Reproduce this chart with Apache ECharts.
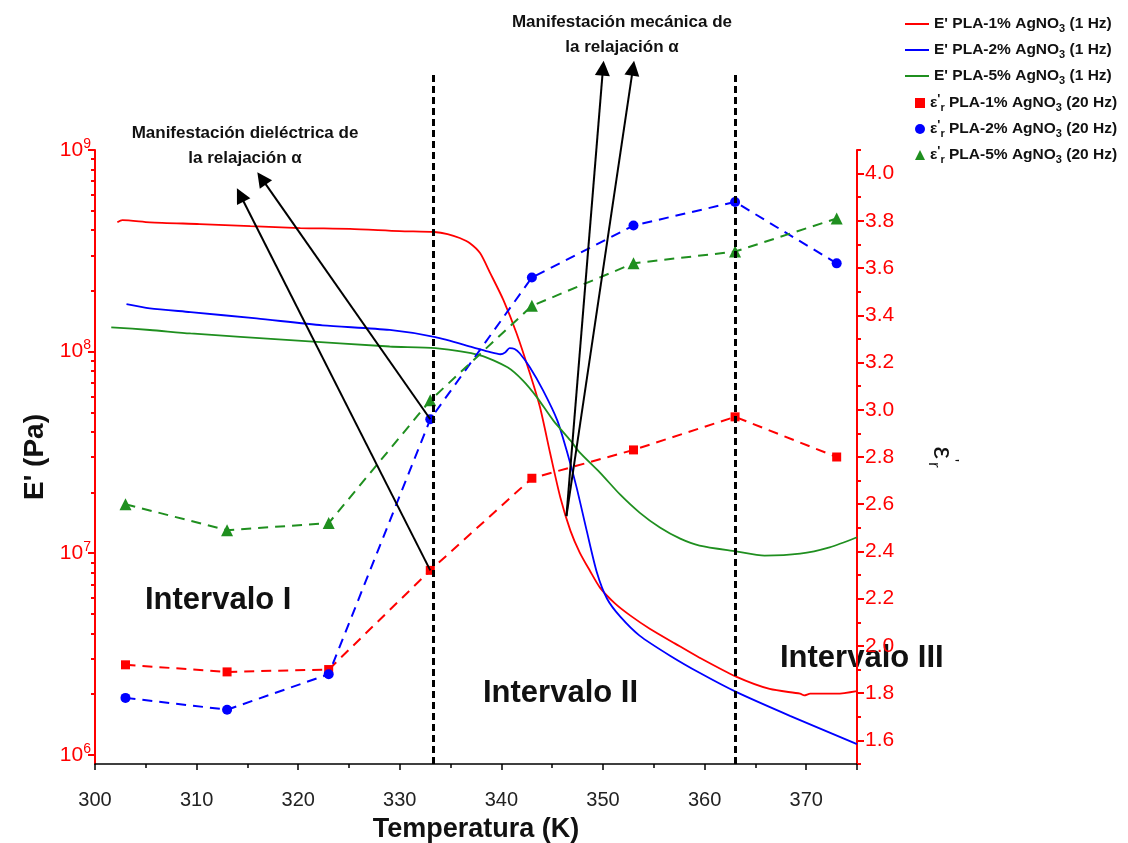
<!DOCTYPE html>
<html>
<head>
<meta charset="utf-8">
<script src="https://cdn.jsdelivr.net/npm/echarts@6/dist/echarts.min.js"></script>
<style>
  html, body { margin: 0; padding: 0; background: #ffffff; }
  #chart { width: 1128px; height: 843px; }
</style>
</head>
<body>
<div id="chart"></div>
<script>
// Storage modulus E' at 1 Hz: temperature (K) and modulus (Pa)
const tempE1 = [302.2, 302.7, 305.4, 310.3, 315.3, 320.2, 325.1, 330.0, 333.4, 334.7, 335.9, 336.9, 337.9, 338.9, 340.2, 341.5, 342.8, 343.8, 344.8, 345.8, 346.8, 347.7, 348.7, 349.7, 351.2, 352.7, 354.6, 357.1, 359.5, 363.1, 366.4, 369.4, 369.8, 370.4, 373.0, 375.0];
const modE1 = [4.38e8, 4.49e8, 4.38e8, 4.29e8, 4.19e8, 4.10e8, 4.06e8, 3.96e8, 3.92e8, 3.83e8, 3.66e8, 3.45e8, 3.08e8, 2.45e8, 1.80e8, 1.23e8, 7.80e7, 5.29e7, 3.13e7, 1.89e7, 1.29e7, 1.01e7, 8.20e6, 6.75e6, 5.62e6, 4.90e6, 4.22e6, 3.56e6, 3.03e6, 2.44e6, 2.12e6, 2.01e6, 1.97e6, 2.01e6, 2.01e6, 2.07e6];

const tempE2 = [303.1, 305.4, 309.4, 315.9, 322.4, 329.0, 333.5, 337.2, 338.9, 339.9, 340.4, 340.8, 341.3, 341.8, 342.8, 344.1, 345.5, 346.5, 347.4, 348.4, 349.4, 350.4, 351.7, 353.6, 356.6, 359.5, 363.1, 368.4, 375.0];
const modE2 = [1.72e8, 1.64e8, 1.57e8, 1.46e8, 1.35e8, 1.28e8, 1.18e8, 1.05e8, 9.93e7, 9.70e7, 9.93e7, 1.04e8, 1.03e8, 9.81e7, 8.36e7, 6.42e7, 4.56e7, 3.13e7, 2.12e7, 1.29e7, 8.02e6, 5.94e6, 4.84e6, 3.90e6, 3.10e6, 2.55e6, 2.05e6, 1.56e6, 1.13e6];

const tempE5 = [301.6, 305.4, 309.4, 319.2, 329.0, 333.5, 337.9, 340.6, 342.1, 343.5, 345.1, 346.8, 347.7, 349.7, 351.7, 353.6, 355.6, 357.6, 359.5, 363.1, 365.9, 369.4, 372.3, 375.0];
const modE5 = [1.32e8, 1.28e8, 1.23e8, 1.14e8, 1.06e8, 1.04e8, 9.59e7, 8.36e7, 7.20e7, 5.93e7, 4.56e7, 3.62e7, 3.16e7, 2.51e7, 1.95e7, 1.59e7, 1.34e7, 1.18e7, 1.09e7, 1.02e7, 9.73e6, 9.95e6, 1.07e7, 1.20e7];

// Real permittivity at 20 Hz
const tempDiel = [303, 313, 323, 333, 343, 353, 363, 373];
const eps1 = [1.92, 1.89, 1.90, 2.32, 2.71, 2.83, 2.97, 2.80];
const eps2 = [1.78, 1.73, 1.88, 2.96, 3.56, 3.78, 3.88, 3.62];
const eps5 = [2.60, 2.49, 2.52, 3.04, 3.44, 3.62, 3.67, 3.81];

// Series names
const namesE = ["E' PLA-1% AgNO3 (1 Hz)", "E' PLA-2% AgNO3 (1 Hz)", "E' PLA-5% AgNO3 (1 Hz)"];
const namesEps = ["ε'r PLA-1% AgNO3 (20 Hz)", "ε'r PLA-2% AgNO3 (20 Hz)", "ε'r PLA-5% AgNO3 (20 Hz)"];

// Axis ticks
const modMajor = [1e6, 1e7, 1e8, 1e9];
const modMinor = [2e6, 3e6, 4e6, 5e6, 6e6, 7e6, 8e6, 9e6, 2e7, 3e7, 4e7, 5e7, 6e7, 7e7, 8e7, 9e7, 2e8, 3e8, 4e8, 5e8, 6e8, 7e8, 8e8, 9e8];
const epsMajor = [1.6, 1.8, 2.0, 2.2, 2.4, 2.6, 2.8, 3.0, 3.2, 3.4, 3.6, 3.8, 4.0];
const epsMinor = [1.5, 1.7, 1.9, 2.1, 2.3, 2.5, 2.7, 2.9, 3.1, 3.3, 3.5, 3.7, 3.9, 4.1];

// Interval boundaries (K) and annotation arrows [from, to] in (T, ε'r) units
const boundaries = [333.3, 363];
const arrowsDiel = [[[333, 2.32], [314.3, 3.91]], [[333, 2.96], [316.4, 3.98]]];
const arrowsMech = [[[346.4, 2.55], [350.0, 4.447]], [[346.4, 2.55], [352.95, 4.447]]];

const RED = '#ff0000', BLUE = '#0000ff', GREEN = '#1f8f1f';
const FONT = 'Liberation Sans, Arial, sans-serif';

const zip = (a, b) => a.map((v, i) => [v, b[i]]);

const chart = echarts.init(document.getElementById('chart'), null, { renderer: 'canvas' });

const legendRich = {
  s: { fontSize: 11, fontWeight: 'bold', fontFamily: FONT, color: '#111', verticalAlign: 'bottom', lineHeight: 11 },
  p: { fontSize: 13, fontWeight: 'bold', fontFamily: FONT, color: '#111', verticalAlign: 'top', lineHeight: 13 }
};
const legendFormat = name => name.replace("ε'r", "ε{p|'}{s|r}").replace('AgNO3', 'AgNO{s|3}');
const legendText = { fontSize: 15.5, fontWeight: 'bold', fontFamily: FONT, color: '#111', lineHeight: 20, rich: legendRich };

function curve(name, t, e, color) {
  return {
    name, type: 'line', xAxisIndex: 0, yAxisIndex: 0,
    data: zip(t, e), symbol: 'none', smooth: 0.25,
    lineStyle: { color, width: 1.8 }, itemStyle: { color }, z: 3
  };
}
function diel(name, v, color, symbol, size) {
  return {
    name, type: 'line', xAxisIndex: 0, yAxisIndex: 2,
    data: zip(tempDiel, v), symbol, symbolSize: size, showSymbol: true,
    lineStyle: { color, width: 2, type: [10, 7] }, itemStyle: { color }, z: 4
  };
}

const vLineTop = 4.418;
const markLines = [];
boundaries.forEach(b => markLines.push([
  { coord: [b, vLineTop], symbol: 'none', lineStyle: { color: '#000', width: 3, type: [7, 4] } },
  { coord: [b, 1.5], symbol: 'none' }
]));
arrowsDiel.concat(arrowsMech).forEach(a => markLines.push([
  { coord: a[0], symbol: 'none', lineStyle: { color: '#000', width: 2, type: 'solid' } },
  { coord: a[1], symbol: 'triangle', symbolSize: 15 }
]));

const option = {
  backgroundColor: '#ffffff',
  animation: false,
  grid: [
    { left: 95, right: 271, top: 150, bottom: 79, containLabel: false, outerBoundsMode: 'none' },
    { left: 95, right: 271, top: 60, bottom: 79, containLabel: false, outerBoundsMode: 'none' }
  ],
  legend: [
    {
      data: namesE.map(n => ({ name: n, icon: 'rect' })),
      orient: 'vertical', left: 900, top: 9,
      itemWidth: 24, itemHeight: 2, itemGap: 6,
      formatter: legendFormat, textStyle: legendText
    },
    {
      data: [{ name: namesEps[0], icon: 'rect' }, { name: namesEps[1], icon: 'circle' }, { name: namesEps[2], icon: 'triangle' }],
      orient: 'vertical', left: 910, top: 88,
      itemWidth: 10, itemHeight: 10, itemGap: 6,
      formatter: legendFormat, textStyle: legendText
    }
  ],
  xAxis: [
    {
      type: 'value', gridIndex: 0, min: 300, max: 375, interval: 10,
      name: 'Temperatura (K)', nameLocation: 'middle', nameGap: 52,
      nameTextStyle: { fontSize: 27, fontWeight: 'bold', fontFamily: FONT, color: '#111' },
      axisLine: { show: true, lineStyle: { color: '#000', width: 1.5 } },
      axisTick: { show: true, length: 6, lineStyle: { color: '#000', width: 1.5 } },
      minorTick: { show: true, splitNumber: 2, length: 4, lineStyle: { color: '#000', width: 1.5 } },
      axisLabel: { fontSize: 20, fontFamily: 'Liberation Sans Narrow, Arial, sans-serif', color: '#222', margin: 26, showMaxLabel: false },
      splitLine: { show: false }
    },
    {
      type: 'value', gridIndex: 1, min: 300, max: 375, show: false
    }
  ],
  yAxis: [
    {
      type: 'log', gridIndex: 0, min: 9e5, max: 1e9, position: 'left',
      name: "E' (Pa)", nameLocation: 'middle', nameGap: 40, nameRotate: 90,
      nameTextStyle: { fontSize: 28, fontWeight: 'bold', fontFamily: FONT, color: '#111' },
      axisLine: { show: true, lineStyle: { color: RED, width: 2 } },
      axisTick: { show: true, length: 7, customValues: modMajor, lineStyle: { color: RED, width: 2 } },
      axisLabel: {
        customValues: modMajor, margin: 4,
        formatter: v => '{b|10}{e|' + Math.round(Math.log10(v)) + '}',
        rich: {
          b: { fontSize: 21, fontFamily: FONT, color: RED, lineHeight: 26, verticalAlign: 'middle' },
          e: { fontSize: 14, fontFamily: FONT, color: RED, lineHeight: 14, verticalAlign: 'top' }
        }
      },
      splitLine: { show: false }
    },
    {
      type: 'log', gridIndex: 0, min: 9e5, max: 1e9, position: 'left',
      axisLine: { show: false },
      axisTick: { show: true, length: 4, customValues: modMinor, lineStyle: { color: RED, width: 2 } },
      axisLabel: { show: false },
      splitLine: { show: false }
    },
    {
      type: 'value', gridIndex: 0, min: 1.5, max: 4.1, position: 'right',
      name: "{e|ε}{p|'}{s|r}", nameLocation: 'middle', nameGap: 68, nameRotate: -90,
      nameTextStyle: {
        fontSize: 28, fontFamily: FONT, color: '#111',
        rich: {
          e: { fontSize: 28, fontFamily: FONT, color: '#111', lineHeight: 34 },
          p: { fontSize: 16, fontFamily: FONT, color: '#111', lineHeight: 16, verticalAlign: 'top' },
          s: { fontSize: 17, fontFamily: FONT, color: '#111', lineHeight: 17, verticalAlign: 'bottom' }
        }
      },
      axisLine: { show: true, lineStyle: { color: RED, width: 2 } },
      axisTick: { show: true, length: 7, customValues: epsMajor, lineStyle: { color: RED, width: 2 } },
      axisLabel: {
        customValues: epsMajor, margin: 8,
        formatter: v => v.toFixed(1),
        fontSize: 21, fontFamily: FONT, color: RED
      },
      splitLine: { show: false }
    },
    {
      type: 'value', gridIndex: 0, min: 1.5, max: 4.1, position: 'right',
      axisLine: { show: false },
      axisTick: { show: true, length: 4, customValues: epsMinor, lineStyle: { color: RED, width: 2 } },
      axisLabel: { show: false },
      splitLine: { show: false }
    },
    {
      type: 'value', gridIndex: 1, min: 1.5, max: 4.4814, show: false
    }
  ],
  series: [
    curve(namesE[0], tempE1, modE1, RED),
    curve(namesE[1], tempE2, modE2, BLUE),
    curve(namesE[2], tempE5, modE5, GREEN),
    diel(namesEps[0], eps1, RED, 'rect', 9),
    diel(namesEps[1], eps2, BLUE, 'circle', 10),
    diel(namesEps[2], eps5, GREEN, 'triangle', 12),
    {
      type: 'line', xAxisIndex: 1, yAxisIndex: 4, data: [], silent: true, z: 5,
      markLine: {
        silent: true, animation: false,
        label: { show: false },
        lineStyle: { color: '#000', width: 2, type: 'solid' },
        itemStyle: { color: '#000' },
        data: markLines
      }
    }
  ],
  graphic: [
    {
      type: 'text', x: 245, y: 121,
      style: { text: 'Manifestación dieléctrica de\nla relajación α', fill: '#111', font: 'bold 17px ' + FONT, align: 'center', verticalAlign: 'top', lineHeight: 25 }
    },
    {
      type: 'text', x: 622, y: 10,
      style: { text: 'Manifestación mecánica de\nla relajación α', fill: '#111', font: 'bold 17px ' + FONT, align: 'center', verticalAlign: 'top', lineHeight: 25 }
    },
    {
      type: 'text', x: 145, y: 600,
      style: { text: 'Intervalo I', fill: '#111', font: 'bold 31px ' + FONT, align: 'left', verticalAlign: 'middle' }
    },
    {
      type: 'text', x: 483, y: 693,
      style: { text: 'Intervalo II', fill: '#111', font: 'bold 31px ' + FONT, align: 'left', verticalAlign: 'middle' }
    },
    {
      type: 'text', x: 780, y: 658,
      style: { text: 'Intervalo III', fill: '#111', font: 'bold 31px ' + FONT, align: 'left', verticalAlign: 'middle' }
    }
  ]
};

chart.setOption(option);
</script>
</body>
</html>
